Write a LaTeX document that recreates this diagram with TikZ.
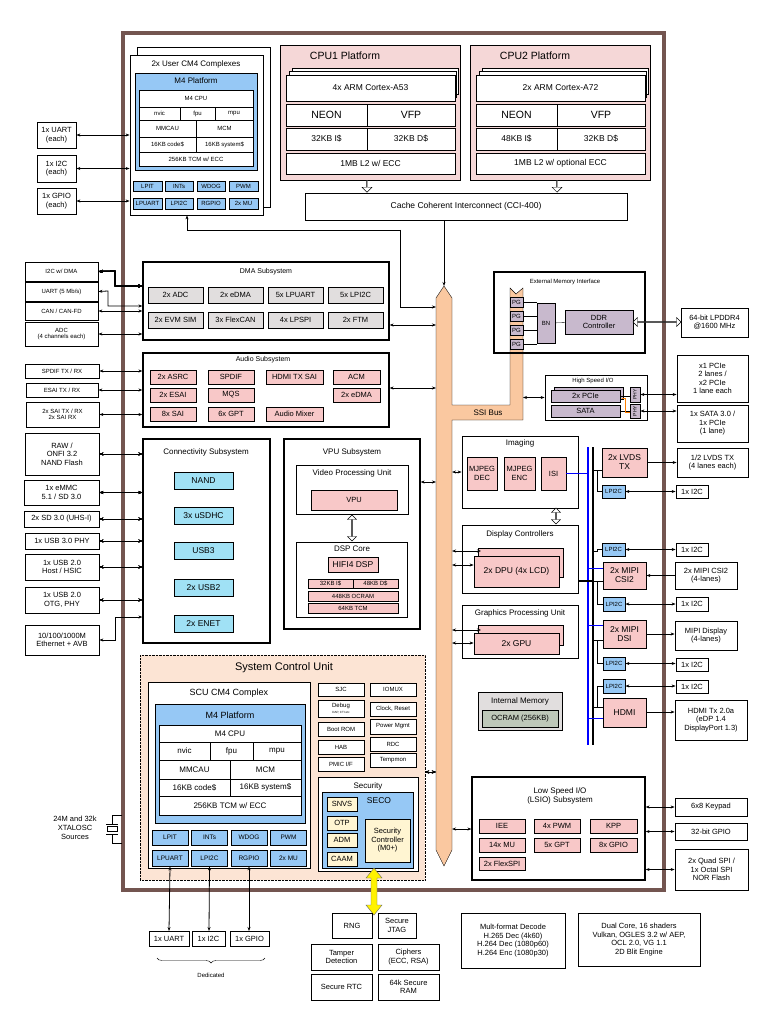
\documentclass[tikz,border=0pt]{standalone}
\usepackage{fontspec}
\setmainfont{Liberation Sans}
\usetikzlibrary{arrows.meta,shapes.arrows,decorations.pathreplacing}

\definecolor{frame}{RGB}{115,85,80}
\definecolor{pinkbox}{RGB}{248,200,200}
\definecolor{pinkbg}{RGB}{245,215,215}
\definecolor{bluebox}{RGB}{150,200,245}
\definecolor{cyanbox}{RGB}{160,225,245}
\definecolor{graybox}{RGB}{225,222,222}
\definecolor{lilac}{RGB}{200,185,205}
\definecolor{peach}{RGB}{252,228,212}
\definecolor{busor}{RGB}{250,200,160}
\definecolor{yelbox}{RGB}{255,245,210}
\definecolor{ocram}{RGB}{190,200,185}

\tikzset{
  box/.style={draw, thick, fill=white, inner sep=0pt, align=center, font=\fontsize{7.5}{8.5}\selectfont},
  sub/.style={box, very thick, fill=none},
  pk/.style={box, fill=pinkbox},
  bl/.style={box, fill=bluebox},
  cy/.style={box, fill=cyanbox},
  gy/.style={box, fill=graybox},
  title/.style={font=\fontsize{8}{9}\selectfont, inner sep=0pt, align=center},
  big/.style={font=\fontsize{10.5}{11}\selectfont},
  tiny/.style={font=\fontsize{6}{6.5}\selectfont},
  io/.style={thick, {Stealth[length=4pt]}-{Stealth[length=4pt]}},
  ioto/.style={thick, -{Stealth[length=4pt]}},
  hollow/.style={double arrow, draw, fill=white, minimum width=9pt, double arrow head extend=2pt, inner sep=0pt, minimum height=#1},
  hollowd/.style={single arrow, draw, fill=white, minimum width=10pt, single arrow head extend=2pt, inner sep=0pt, minimum height=12pt, shape border rotate=270}
}

% \blk[style]{name}{x1}{y1}{x2}{y2}{text}
\newcommand{\blk}[7][box]{\node[#1, minimum width={((#5)-(#3))*1pt}, minimum height={((#6)-(#4))*1pt}] (#2) at ({((#3)+(#5))/2},{((#4)+(#6))/2}) {#7};}

\begin{document}
\begin{tikzpicture}[x=1pt,y=-1pt]
\useasboundingbox (0,0) rectangle (768,1024);

% outer frame and SCU background
\draw[frame, line width=4pt] (123,33) rectangle (664,890);
\draw[densely dotted, fill=peach] (140,655) rectangle (425,880);

% SSI bus
\draw[fill=busor] (436,298) -- (444,286) -- (452,298) -- (452,405) -- (510,405) -- (510,288) -- (516,294) -- (523,288)
  -- (523,420) -- (452,420) -- (452,850) -- (444,866) -- (436,850) -- cycle;
\node[title] (ssi) at (488,413) {SSI Bus};

% user CM4 complexes
\draw[thick, fill=white] (137,47) rectangle (270,207);
\blk{ucm}{130}{55}{263}{215}{}
\node[title] at (196,64) {2x User CM4 Complexes};
\blk[bl]{um4}{135}{73}{257}{170}{}
\node[title] at (196,81) {M4 Platform};
\blk[box,tiny]{ucpu}{139}{90}{253}{107}{M4 CPU}
\blk[box,tiny]{unv}{139}{107}{180}{120}{nvic}
\blk[box,tiny]{ufp}{180}{107}{215}{120}{fpu}
\blk[box,tiny]{ump}{215}{107}{253}{120}{mpu}
\blk[box,tiny]{umm}{139}{120}{196}{137}{MMCAU}
\blk[box,tiny]{umc}{196}{120}{253}{137}{MCM}
\blk[box,tiny]{uc1}{139}{137}{196}{152}{16KB code\$}
\blk[box,tiny]{uc2}{196}{137}{253}{152}{16KB system\$}
\blk[box,tiny]{utcm}{139}{152}{253}{166}{256KB TCM w/ ECC}
\blk[bl,tiny]{ulpit}{133}{181}{162}{191}{LPIT}
\blk[bl,tiny]{uint}{165}{181}{193}{191}{INTs}
\blk[bl,tiny]{uwdg}{197}{181}{225}{191}{WDOG}
\blk[bl,tiny]{upwm}{229}{181}{258}{191}{PWM}
\blk[bl,tiny]{uuart}{133}{198}{162}{209}{LPUART}
\blk[bl,tiny]{ui2c}{165}{198}{193}{209}{LPI2C}
\blk[bl,tiny]{ugpio}{197}{198}{225}{209}{RGPIO}
\blk[bl,tiny]{umu}{229}{198}{258}{209}{2x MU}
\blk{xuart}{37}{122}{76}{148}{1x UART\\(each)}
\blk{xi2c}{37}{155}{76}{182}{1x I2C\\(each)}
\blk{xgpio}{37}{188}{76}{214}{1x GPIO\\(each)}
\foreach \n in {xuart,xi2c,xgpio}
  \draw[io] (\n.east) -- (\n.east -| ucm.west);

% CPU platforms
\foreach \p/\x/\core/\ia/\l in {c1/280/4x ARM Cortex-A53/32KB I\$/{1MB L2 w/ ECC}, c2/470/2x ARM Cortex-A72/48KB I\$/{1MB L2 w/ optional ECC}}{
  \blk[box,fill=pinkbg]{\p}{\x}{45}{\x+180}{180}{}
  \draw[thick,fill=white] (\x+12,68) rectangle (\x+178,94);
  \draw[thick,fill=white] (\x+9,71) rectangle (\x+176,97);
  \blk[box,font=\fontsize{8.5}{9}\selectfont]{\p core}{\x+6}{75}{\x+175}{101}{\core}
  \blk[box,font=\fontsize{10.5}{11}\selectfont]{\p neon}{\x+6}{104}{\x+87}{126}{NEON}
  \blk[box,font=\fontsize{10.5}{11}\selectfont]{\p vfp}{\x+87}{104}{\x+175}{126}{VFP}
  \blk[box,font=\fontsize{8.5}{9}\selectfont]{\p i}{\x+6}{128}{\x+87}{150}{\ia}
  \blk[box,font=\fontsize{8.5}{9}\selectfont]{\p d}{\x+87}{128}{\x+175}{150}{32KB D\$}
  \blk[box,font=\fontsize{8.5}{9}\selectfont]{\p l2}{\x+6}{153}{\x+175}{174}{\l}
  \node[hollowd] at (\x+87,186) {};
}
\node[big] at (345,56) {CPU1 Platform};
\node[big] at (535,56) {CPU2 Platform};
\blk[box,font=\fontsize{8.5}{9}\selectfont]{cci}{305}{193}{627}{220}{Cache Coherent Interconnect (CCI-400)}
\coordinate (bustop) at (444,286);
\draw[ioto] (cci.south -| bustop) -- (bustop);
\draw[ioto] (400,230) -- (187,230) -- (ucm.south -| 187,0);
\draw[ioto] (400,230) -- (400,307) -- (436,307);

% EMI
\blk[sub]{emi}{494}{272}{645}{353}{}
\node[title,tiny] at (565,282) {External Memory Interface};
\foreach \y [count=\i] in {302,316,330,344}{
  \blk[box,fill=lilac,tiny]{pg\i}{510}{\y-5}{523}{\y+5}{PG}
}
\blk[box,fill=lilac,tiny]{bn}{537}{303}{555}{343}{BN}
\foreach \i in {1,...,4} \draw (pg\i.east) -- (pg\i.east -| bn.west);
\blk[box,fill=lilac]{ddr}{565}{310}{633}{334}{DDR\\Controller}
\draw (bn) -- (ddr);
\blk{lpddr}{681}{308}{748}{337}{64-bit LPDDR4\\@1600 MHz}
\node[hollow=48pt] at (657,322) {};

% high speed IO
\blk[sub,thick]{hsio}{545}{375}{647}{420}{}
\node[title,tiny] at (593,381) {High Speed I/O};
\draw[thick,fill=lilac] (554,387) rectangle (623,399);
\blk[box,fill=lilac]{pcie}{551}{390}{620}{402}{2x PCIe}
\blk[box,fill=lilac]{sata}{551}{405}{620}{417}{SATA}
\blk[box,fill=lilac,font=\fontsize{5}{5}\selectfont]{phy1}{630}{387}{640}{402}{\rotatebox{90}{PHY}}
\blk[box,fill=lilac,font=\fontsize{5}{5}\selectfont]{phy2}{630}{404}{640}{418}{\rotatebox{90}{PHY}}
\draw (pcie.east) -- (phy1.west |- pcie.east);
\draw (sata.east) -- (phy2.west |- sata.east);
\draw[orange] (622,398) -- (625,398) -- (625,412) -- (630,412);
\blk{xpcie}{677}{355}{748}{402}{x1 PCIe\\2 lanes /\\x2 PCIe\\1 lane each}
\blk{xsata}{677}{405}{748}{442}{1x SATA 3.0 /\\1x PCIe\\(1 lane)}
\draw[io] (phy1.east) -- (phy1.east -| xpcie.west);
\draw[io] (phy2.east) -- (phy2.east -| xsata.west);
\draw[io] (hsio.west) -- (hsio.west -| 523,0);

% DMA subsystem
\blk[sub]{dma}{143}{262}{389}{340}{}
\node[title,font=\fontsize{7}{7}\selectfont] at (266,272) {DMA Subsystem};
\foreach \t [count=\i] in {2x ADC,2x eDMA,5x LPUART,5x LPI2C}
  \blk[gy]{dmaa\i}{148+(\i-1)*60}{287}{203+(\i-1)*60}{303}{\t}
\foreach \t [count=\i] in {2x EVM SIM,3x FlexCAN,4x LPSPI,2x FTM}
  \blk[gy]{dmab\i}{148+(\i-1)*60}{312}{203+(\i-1)*60}{328}{\t}
\blk[box,tiny]{xi2cd}{25}{262}{98}{281}{I2C w/ DMA}
\blk[box,tiny]{xuartd}{25}{282}{98}{301}{UART (5 Mb/s)}
\blk[box,tiny]{xcan}{25}{302}{98}{320}{CAN / CAN-FD}
\blk[box,tiny]{xadc}{25}{322}{98}{346}{ADC\\(4 channels each)}
\draw[io] (xi2cd.east) -- (115,271) -- (115,286) -- (dma.west |- 0,286);
\draw[io] (xuartd.east) -- (108,291) -- (108,306) -- (dma.west |- 0,306);
\draw[io] (xcan.east) -- (dma.west |- xcan.east);
\draw[io] (xadc.east) -- (dma.west |- xadc.east);
\draw[io] (dma.east |- 0,325) -- (436,325);

% audio subsystem
\blk[sub]{aud}{143}{353}{389}{427}{}
\node[title,font=\fontsize{7}{7}\selectfont] at (263,360) {Audio Subsystem};
\blk[pk]{asrc}{150}{370}{196}{384}{2x ASRC}
\blk[pk]{spdif}{208}{370}{254}{384}{SPDIF}
\blk[pk]{hdsai}{266}{370}{323}{384}{HDMI TX SAI}
\blk[pk]{acm}{333}{370}{380}{384}{ACM}
\blk[pk]{esai}{150}{388}{196}{402}{2x ESAI}
\blk[pk]{mqs}{208}{388}{254}{402}{MQS}
\blk[pk]{aedma}{333}{388}{380}{402}{2x eDMA}
\blk[pk]{sai}{150}{407}{196}{421}{8x SAI}
\blk[pk]{gpt}{208}{407}{254}{421}{6x GPT}
\blk[pk]{amix}{266}{407}{323}{421}{Audio Mixer}
\blk[box,tiny]{xspdif}{25}{364}{99}{378}{SPDIF TX / RX}
\blk[box,tiny]{xesai}{26}{383}{98}{397}{ESAI TX / RX}
\blk[box,tiny]{xsai}{26}{402}{99}{427}{2x SAI TX / RX\\2x SAI RX}
\foreach \n in {xspdif,xesai,xsai}
  \draw[io] (\n.east) -- (\n.east -| aud.west);
\draw[io] (aud.east |- 0,388) -- (436,388);

% connectivity subsystem
\blk[sub]{conn}{143}{439}{270}{643}{}
\node[title] at (206,452) {Connectivity Subsystem};
\foreach \t/\y in {NAND/472,3x uSDHC/507,USB3/542,2x USB2/579,2x ENET/615}
  \blk[cy,font=\fontsize{8.5}{9}\selectfont]{c\y}{174}{\y}{233}{\y+17}{\t}
\blk{xnand}{25}{433}{99}{475}{RAW /\\ONFI 3.2\\NAND Flash}
\blk{xemmc}{24}{480}{99}{505}{1x eMMC\\5.1 / SD 3.0}
\blk{xsd}{24}{511}{99}{527}{2x SD 3.0 (UHS-I)}
\blk{xusb3}{25}{533}{99}{549}{1x USB 3.0 PHY}
\blk{xhost}{25}{554}{99}{580}{1x USB 2.0\\Host / HSIC}
\blk{xotg}{25}{587}{99}{613}{1x USB 2.0\\OTG, PHY}
\blk{xeth}{25}{625}{99}{655}{10/100/1000M\\Ethernet + AVB}
\foreach \n in {xnand,xemmc,xsd,xusb3,xhost,xotg}
  \draw[io] (\n.east) -- (\n.east -| conn.west);
\draw[io] (xeth.east) -- (115,640) -- (115,617) -- (conn.west |- 0,617);

% VPU subsystem
\blk[sub]{vpus}{284}{439}{420}{629}{}
\node[title] at (352,452) {VPU Subsystem};
\blk{vpuu}{296}{465}{408}{514}{}
\node[title] at (352,473) {Video Processing Unit};
\blk[pk]{vpu}{311}{490}{397}{510}{VPU}
\node[hollow=26pt, rotate=90] at (352,528) {};
\blk{dsp}{296}{542}{407}{617}{}
\node[title] at (352,549) {DSP Core};
\blk[pk,font=\fontsize{8.5}{9}\selectfont]{hifi}{328}{557}{378}{572}{HIFI4 DSP}
\blk[pk,tiny]{dspi}{308}{579}{353}{588}{32KB I\$}
\blk[pk,tiny]{dspd}{353}{579}{398}{588}{48KB D\$}
\blk[pk,tiny]{dspo}{308}{591}{398}{601}{448KB OCRAM}
\blk[pk,tiny]{dspt}{308}{603}{398}{613}{64KB TCM}
\draw[io] (vpus.east |- 0,482) -- (436,482);

% imaging, display, gpu
\blk[sub,thick]{img}{462}{436}{578}{508}{}
\node[title] at (520,443) {Imaging};
\blk[pk]{mdec}{467}{457}{497}{490}{MJPEG\\DEC}
\blk[pk]{menc}{504}{457}{535}{490}{MJPEG\\ENC}
\blk[pk]{isi}{541}{457}{566}{490}{ISI}
\node[hollow=16pt, rotate=90] at (556,516) {};
\blk[sub,thick]{disp}{462}{525}{578}{593}{}
\node[title] at (520,534) {Display Controllers};
\draw[thick,fill=pinkbox] (478,548) rectangle (563,577);
\blk[pk,font=\fontsize{8.5}{9}\selectfont]{dpu}{474}{556}{559}{587}{2x DPU (4x LCD)}
\blk[sub,thick]{gpus}{462}{605}{578}{658}{}
\node[title] at (520,613) {Graphics Processing Unit};
\draw[thick,fill=pinkbox] (478,625) rectangle (563,645);
\blk[pk,font=\fontsize{8.5}{9}\selectfont]{gpu}{474}{633}{559}{654}{2x GPU}
\draw[io] (452,472) -- (img.west |- 0,472);
\draw[io] (452,551) -- (481,551);
\draw[io] (452,565) -- (dpu.west |- 0,565);
\draw[io] (452,630) -- (481,630);
\draw[io] (452,643) -- (gpu.west |- 0,643);
\blk[box,fill=graybox]{imem}{478}{692}{562}{730}{}
\node[title] at (520,701) {Internal Memory};
\blk[box,fill=ocram]{ocr}{482}{710}{558}{727}{OCRAM (256KB)}

% display/camera buses
\draw[blue, line width=2pt] (588,447) -- (588,745);
\draw[line width=1.5pt] (593,447) -- (593,745);
\blk[pk,font=\fontsize{8.5}{9}\selectfont]{lvds}{602}{448}{647}{477}{2x LVDS\\TX}
\blk[bl,tiny]{li1}{602}{485}{625}{498}{LPI2C}
\blk[bl,tiny]{li2}{602}{543}{625}{556}{LPI2C}
\blk[pk,font=\fontsize{8.5}{9}\selectfont]{csi}{603}{562}{646}{589}{2x MIPI\\CSI2}
\blk[bl,tiny]{li3}{603}{597}{625}{611}{LPI2C}
\blk[pk,font=\fontsize{8.5}{9}\selectfont]{dsi}{603}{620}{646}{648}{2x MIPI\\DSI}
\blk[bl,tiny]{li4}{603}{657}{625}{670}{LPI2C}
\blk[bl,tiny]{li5}{603}{679}{625}{693}{LPI2C}
\blk[pk,font=\fontsize{8.5}{9}\selectfont]{hdmi}{603}{698}{646}{727}{HDMI}
\draw[blue, line width=1.5pt] (isi.east) -- (isi.east -| 588,0);
\foreach \n/\y in {csi/568,dsi/625,hdmi/718}
  \draw[blue, thick] (588,\y) -- (\n.west |- 0,\y);
\draw (593,470) -- (lvds.west |- 0,470);
\draw (597,470) |- (li1.west);
\draw (593,551) -- (597,551) |- (li2.west);
\draw (593,581) -- (csi.west |- 0,581);
\draw (597,581) |- (li3.west);
\draw[line width=1.5pt] (disp.east |- 0,581) -- (593,581);
\draw (593,640) -- (dsi.west |- 0,640);
\draw (597,640) |- (li4.west);
\draw (593,707) -- (hdmi.west |- 0,707);
\draw (597,707) |- (li5.west);
\blk{xlvds}{677}{448}{748}{477}{1/2 LVDS TX\\(4 lanes each)}
\blk{xi1}{676}{485}{708}{498}{1x I2C}
\blk{xi2}{676}{543}{708}{556}{1x I2C}
\blk{xcsi}{675}{562}{737}{589}{2x MIPI CSI2\\(4-lanes)}
\blk{xi3}{676}{597}{708}{611}{1x I2C}
\blk{xdsi}{675}{621}{737}{650}{MIPI Display\\(4-lanes)}
\blk{xi4}{676}{658}{708}{671}{1x I2C}
\blk{xi5}{676}{680}{708}{693}{1x I2C}
\blk{xhdmi}{675}{700}{747}{740}{HDMI Tx 2.0a\\(eDP 1.4\\DisplayPort 1.3)}
\draw[ioto] (lvds.east) -- (lvds.east -| xlvds.west);
\foreach \i in {1,...,5} \draw[io] (li\i.east) -- (li\i.east -| xi\i.west);
\draw[ioto] (xcsi.west) -- (xcsi.west -| csi.east);
\draw[ioto] (dsi.east) -- (dsi.east -| xdsi.west);
\draw[ioto] (hdmi.east |- 0,712) -- (xhdmi.west |- 0,712);

% system control unit
\node[big, font=\fontsize{11}{12}\selectfont] at (284,668) {System Control Unit};
\blk{scm}{148}{682}{310}{868}{}
\node[title,font=\fontsize{9}{10}\selectfont] at (229,693) {SCU CM4 Complex};
\blk[bl]{sm4}{155}{704}{305}{823}{}
\node[title,font=\fontsize{9}{10}\selectfont] at (230,715) {M4 Platform};
\blk[box,font=\fontsize{8}{9}\selectfont]{scpu}{159}{725}{301}{742}{M4 CPU}
\blk[box,font=\fontsize{8}{9}\selectfont]{snv}{159}{742}{210}{760}{nvic}
\blk[box,font=\fontsize{8}{9}\selectfont]{sfp}{210}{742}{253}{760}{fpu}
\blk[box,font=\fontsize{8}{9}\selectfont]{smp}{253}{742}{301}{760}{mpu}
\blk[box,font=\fontsize{8}{9}\selectfont]{smm}{159}{760}{230}{779}{MMCAU}
\blk[box,font=\fontsize{8}{9}\selectfont]{smc}{230}{760}{301}{779}{MCM}
\blk[box,font=\fontsize{8}{9}\selectfont]{sc1}{159}{779}{230}{796}{16KB code\$}
\blk[box,font=\fontsize{8}{9}\selectfont]{sc2}{230}{779}{301}{796}{16KB system\$}
\blk[box,font=\fontsize{8}{9}\selectfont]{stcm}{159}{796}{301}{815}{256KB TCM w/ ECC}
\foreach \t [count=\i] in {LPIT,INTs,WDOG,PWM}
  \blk[bl,font=\fontsize{6.5}{7}\selectfont]{sa\i}{152+(\i-1)*39.5}{830}{188+(\i-1)*39.5}{845}{\t}
\foreach \t [count=\i] in {LPUART,LPI2C,RGPIO,2x MU}
  \blk[bl,font=\fontsize{6.5}{7}\selectfont]{sb\i}{152+(\i-1)*39.5}{850}{188+(\i-1)*39.5}{866}{\t}
\blk[box,tiny]{sjc}{318}{683}{364}{696}{SJC}
\blk[box,tiny]{dbg}{318}{700}{364}{717}{Debug\\[-1pt]{\fontsize{3}{3}\selectfont DAP, CTI etc}}
\blk[box,tiny]{brom}{318}{722}{364}{736}{Boot ROM}
\blk[box,tiny]{hab}{318}{740}{364}{754}{HAB}
\blk[box,tiny]{pmic}{318}{757}{364}{771}{PMIC I/F}
\blk[box,tiny]{iomux}{370}{683}{416}{696}{IOMUX}
\blk[box,tiny]{clk}{370}{702}{416}{716}{Clock, Reset}
\blk[box,tiny]{pwr}{370}{719}{416}{734}{Power Mgmt}
\blk[box,tiny]{rdc}{370}{737}{416}{751}{RDC}
\blk[box,tiny]{tmon}{370}{753}{416}{767}{Tempmon}
\blk{sec}{318}{777}{418}{871}{}
\node[title] at (368,786) {Security};
\blk[bl]{seco}{322}{792}{413}{868}{}
\node[title,font=\fontsize{8.5}{9}\selectfont] at (379,801) {SECO};
\foreach \t/\y in {SNVS/797,OTP/816,ADM/833,CAAM/852}
  \blk[box,fill=yelbox]{s\t}{327}{\y}{357}{\y+14}{\t}
\blk[box,fill=yelbox]{secctl}{365}{819}{410}{862}{Security\\Controller\\(M0+)}
\draw[io] (436,772) -- (425,772);
\draw[io] (sb1.south) -- (169,931);
\draw[io] (sb2.south) -- (209,931);
\draw[io] (sb3.south) -- (249,931);
\blk{dua}{149}{931}{189}{946}{1x UART}
\blk{dui}{192}{931}{225}{946}{1x I2C}
\blk{dug}{230}{931}{269}{946}{1x GPIO}
\draw[decorate, decoration={brace, mirror, amplitude=5pt}] (157,958) -- (265,958);
\node[tiny] (ded) at (211,975) {Dedicated};

% crystal
\draw (122,815) -- (112,815) -- (112,824);
\draw (122,843) -- (112,843) -- (112,834);
\draw (106,824) -- (118,824) (106,834) -- (118,834);
\draw (107,826.5) rectangle (117,831.5);
\node[font=\fontsize{7.5}{9}\selectfont, align=center] (xtal) at (75,828) {24M and 32k\\XTALOSC\\Sources};

% security externals
\fill[yellow, draw=black!60] (374,868) -- (382,878) -- (377,878) -- (377,905) -- (382,905) -- (374,915) -- (366,905) -- (371,905) -- (371,878) -- (366,878) -- cycle;
\blk{rng}{332}{913}{372}{938}{RNG}
\blk{jtag}{378}{913}{416}{938}{Secure\\JTAG}
\blk{tamp}{311}{944}{372}{970}{Tamper\\Detection}
\blk{ciph}{378}{944}{439}{970}{Ciphers\\(ECC, RSA)}
\blk{srtc}{311}{974}{372}{1000}{Secure RTC}
\blk{sram}{378}{974}{439}{1000}{64k Secure\\RAM}
\blk{mfd}{461}{913}{565}{968}{Mult-format Decode\\H.265 Dec (4k60)\\H.264 Dec (1080p60)\\H.264 Enc (1080p30)}
\blk{gpud}{578}{913}{700}{966}{Dual Core, 16 shaders\\Vulkan, OGLES 3.2 w/ AEP,\\OCL 2.0, VG 1.1\\2D Blit Engine}

% LSIO
\blk[sub]{lsio}{472}{777}{645}{880}{}
\node[title] at (560,796) {Low Speed I/O\\(LSIO) Subsystem};
\blk[pk]{iee}{479}{819}{525}{833}{IEE}
\blk[pk]{pwm4}{534}{819}{580}{833}{4x PWM}
\blk[pk]{kpp}{590}{819}{637}{833}{KPP}
\blk[pk]{mu14}{479}{838}{525}{852}{14x MU}
\blk[pk]{gpt5}{534}{838}{580}{852}{5x GPT}
\blk[pk]{gpio8}{590}{838}{637}{852}{8x GPIO}
\blk[pk]{fspi}{479}{857}{525}{870}{2x FlexSPI}
\draw[io] (452,829) -- (lsio.west |- 0,829);
\blk{xkpd}{675}{798}{747}{816}{6x8 Keypad}
\blk{xgp}{675}{823}{747}{840}{32-bit GPIO}
\blk{xspi}{675}{849}{748}{890}{2x Quad SPI /\\1x Octal SPI\\NOR Flash}
\foreach \n in {xkpd,xgp,xspi}
  \draw[io] (lsio.east |- \n.west) -- (\n.west);
\end{tikzpicture}
\end{document}
